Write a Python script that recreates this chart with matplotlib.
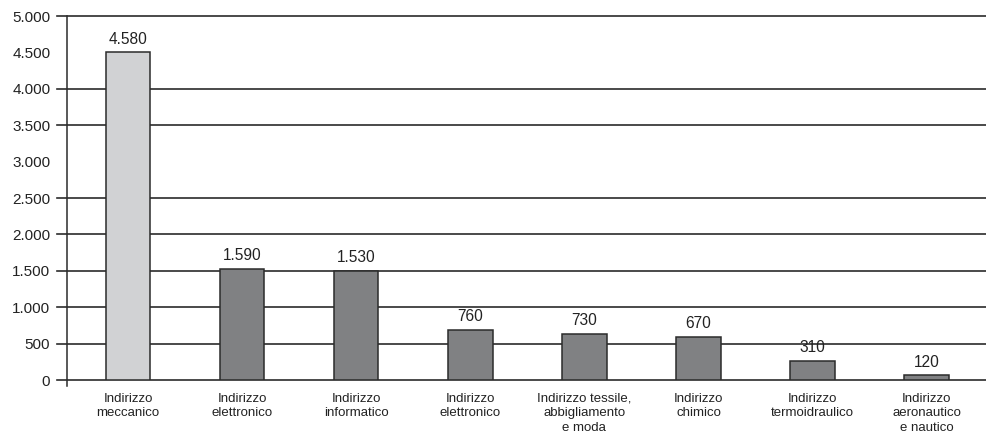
import matplotlib
matplotlib.use("Agg")
import matplotlib.pyplot as plt
from matplotlib.transforms import blended_transform_factory

plt.rcParams['font.family'] = ['Liberation Sans', 'DejaVu Sans']

# data
categories = ["Indirizzo\nmeccanico", "Indirizzo\nelettronico", "Indirizzo\ninformatico",
              "Indirizzo\nelettronico", "Indirizzo tessile,\nabbigliamento\ne moda",
              "Indirizzo\nchimico", "Indirizzo\ntermoidraulico", "Indirizzo\naeronautico\ne nautico"]
values = [4580, 1590, 1530, 760, 730, 670, 310, 120]          # printed labels
bar_heights = [4500, 1530, 1500, 690, 635, 595, 262, 65]      # bar tops as drawn
yticks = [0, 500, 1000, 1500, 2000, 2500, 3000, 3500, 4000, 4500, 5000]
grid_at = [500, 1000, 1500, 2000, 2500, 3500, 4000, 5000]     # no lines at 3000, 4500

W, H = 986, 432
fig = plt.figure(figsize=(W / 100, H / 100), dpi=100)
ax = fig.add_axes([67 / W, 52 / H, (W - 67) / W, 364 / H])

x = list(range(len(categories)))
colors = ['#d1d2d4'] + ['#808183'] * (len(categories) - 1)
ax.bar(x, bar_heights, width=0.39, color=colors, edgecolor='#2b2b2b', linewidth=1.1, zorder=3)

for xi, h, v in zip(x, bar_heights, values):
    ax.annotate(f"{v:,}".replace(",", "."), (xi, h), xytext=(0, 4), textcoords='offset points',
                ha='center', va='bottom', fontsize=11.2, color='#222222')

ax.set_xlim(-0.535, 7.52)
ax.set_ylim(0, 5000)

# grid lines stick out left of the axis like tick marks
tr = ax.get_yaxis_transform()
left = -10 / (W - 67)
for g in grid_at + [0]:
    ax.plot([left, 1], [g, g], transform=tr, color='#2b2b2b', lw=1.2, clip_on=False, zorder=2)

for s in ax.spines.values():
    s.set_visible(False)
tr2 = blended_transform_factory(ax.transAxes, ax.transAxes)
ax.plot([0, 0], [-6 / 364, 1], transform=tr2, color='#2b2b2b', lw=1.1, clip_on=False, zorder=4)

ax.set_yticks(yticks)
ax.set_yticklabels([f"{t:,}".replace(",", ".") for t in yticks], fontsize=11, color='#222222')
ax.tick_params(axis='y', length=0, pad=12)
ax.set_xticks(x)
ax.set_xticklabels(categories, fontsize=9.5, color='#222222', linespacing=1.3)
ax.tick_params(axis='x', length=0, pad=9)

fig.savefig("out.png", dpi=100)
